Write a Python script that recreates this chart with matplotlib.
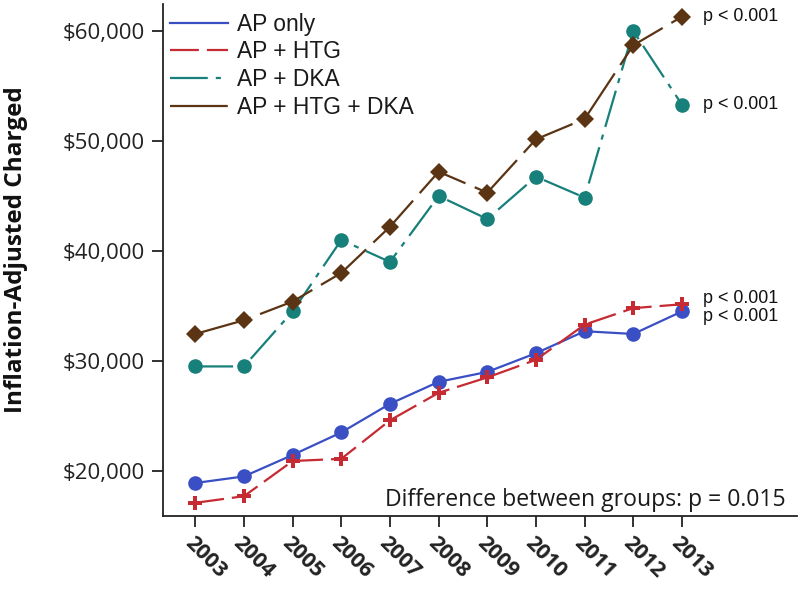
import matplotlib
matplotlib.use("Agg")
import matplotlib.pyplot as plt
from matplotlib.ticker import FuncFormatter

years = list(range(2003, 2014))
ap_only = [18.9, 19.5, 21.45, 23.5, 26.1, 28.1, 29.0, 30.7, 32.7, 32.45, 34.5]
ap_htg = [17.1, 17.7, 20.9, 21.1, 24.6, 27.1, 28.5, 30.1, 33.3, 34.8, 35.15]
ap_dka = [29.5, 29.5, 34.5, 41.0, 39.0, 45.0, 42.9, 46.75, 44.85, 60.0, 53.3]
ap_htg_dka = [32.45, 33.7, 35.4, 38.0, 42.2, 47.2, 45.3, 50.15, 52.0, 58.7, 61.3]
series_names = ["AP only", "AP + HTG", "AP + DKA", "AP + HTG + DKA"]
y_ticks = [20, 30, 40, 50, 60]
p_labels = ["p < 0.001", "p < 0.001", "p < 0.001", "p < 0.001"]
note = "Difference between groups: p = 0.015"

plt.rcParams['font.family'] = ['Open Sans', 'DejaVu Sans']

fig = plt.figure(figsize=(8, 5.91), dpi=100)
ax = fig.add_axes([0.204, 0.1269, 0.792, 0.8663])

blue = '#3a4fc4'
red = '#c62a32'
teal = '#17807a'
brown = '#5b3413'

vals = [ap_only, ap_htg, ap_dka, ap_htg_dka]
cols = [blue, red, teal, brown]
markers = ['o', 'P', 'o', 'D']
msizes = [10.5, 10.5, 10.5, 9.5]
dashes = [None, (13, 3.6), (17, 3.6, 2.3, 3.6), (26, 4.5)]

handles = []
for v, c, m, ms, d, name in zip(vals, cols, markers, msizes, dashes, series_names):
    kw = dict(color=c, lw=1.6, marker=m, markersize=ms, markeredgewidth=0)
    if d is not None:
        ax.plot(years, v, dashes=d, **kw)
        h, = ax.plot([], [], color=c, lw=1.6, dashes=d)
    else:
        ax.plot(years, v, **kw)
        h, = ax.plot([], [], color=c, lw=1.6)
    handles.append(h)

leg = ax.legend(handles, series_names, loc='upper left', frameon=False,
                prop={'family': 'Liberation Sans', 'size': 16.4},
                handlelength=2.55, handletextpad=0.4,
                labelspacing=0.2, borderaxespad=0.0, borderpad=0.3,
                bbox_to_anchor=(0.0, 0.996))
for t in leg.get_texts():
    t.set_color('#1a1a1a')

# p-value annotations at last points
offsets = [-4, 4, 0, 0]
for v, lab, off in zip(vals, p_labels, offsets):
    ax.annotate(lab, xy=(years[-1], v[-1]), xytext=(15, off),
                textcoords='offset points', va='center', ha='left',
                fontsize=12.9, family=['Liberation Sans', 'DejaVu Sans'],
                color='#111111')

ax.text(0.9817, 0.0194, note, transform=ax.transAxes, ha='right', va='baseline',
        fontsize=16.6, color='#1a1a1a')

ax.set_xlim(2002.34, 2015.36)
ax.set_ylim(15.9, 62.45)
ax.set_xticks(years)
ax.set_xticklabels([str(y) for y in years], rotation=-45, ha='left',
                   va='top', rotation_mode='anchor', fontweight='bold',
                   fontsize=15.5, color='#111111')
ax.set_yticks(y_ticks)
ax.yaxis.set_major_formatter(FuncFormatter(lambda x, p: "${:,.0f}".format(x * 1000)))
ax.tick_params(axis='y', labelsize=16, length=8, width=1.3, colors='#222222', pad=5)
ax.tick_params(axis='x', length=8, width=1.3, colors='#222222', pad=4)
for s in ['top', 'right']:
    ax.spines[s].set_visible(False)
for s in ['left', 'bottom']:
    ax.spines[s].set_linewidth(1.3)
    ax.spines[s].set_color('#222222')

ax.set_ylabel("Inflation-Adjusted Charged", fontsize=17.5, fontweight='bold',
              color='#111111')
ax.yaxis.set_label_coords(-0.214, 0.52)

fig.savefig("out.png", dpi=100)
